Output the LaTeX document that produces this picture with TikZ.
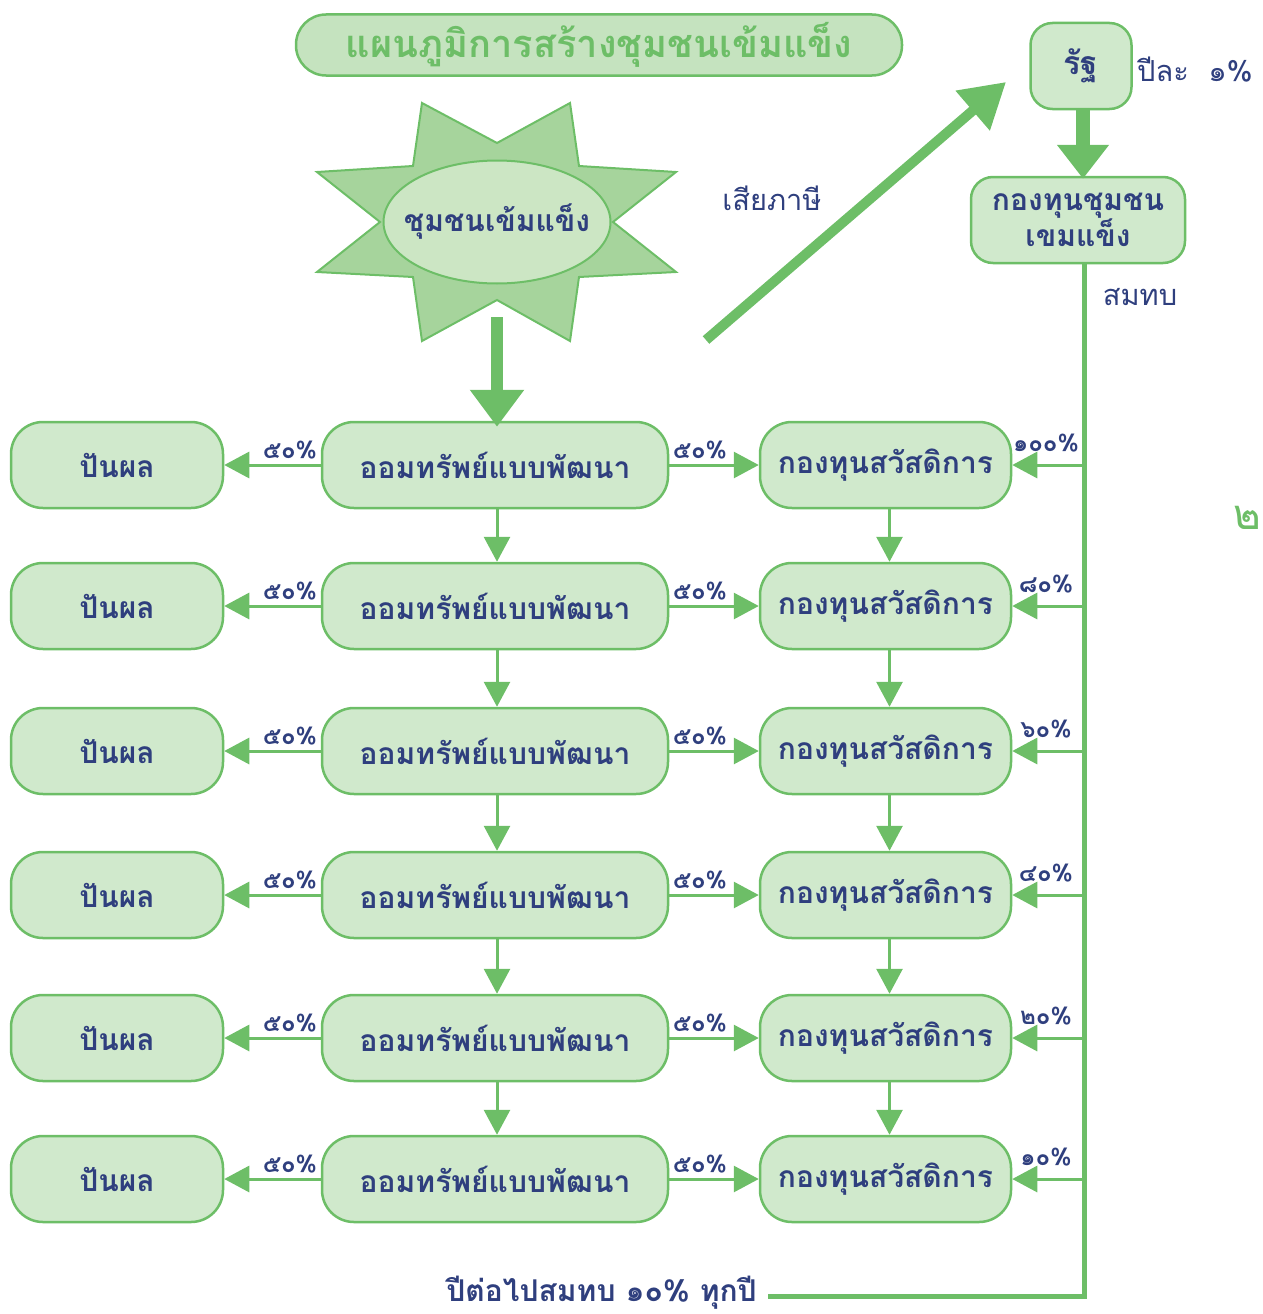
\documentclass[tikz,border=0pt]{standalone}
\usepackage{fontspec}
\newfontfamily\thai[Script=Thai]{Loma}
\usetikzlibrary{arrows.meta,shapes.geometric}
\definecolor{gline}{HTML}{6DBE67}
\definecolor{boxfill}{HTML}{D0E9CC}
\definecolor{titlefill}{HTML}{C5E3BF}
\definecolor{starfill}{HTML}{A6D49C}
\definecolor{ellfill}{HTML}{CCE6C4}
\definecolor{tblue}{HTML}{2F3F7E}
\tikzset{
  box/.style={draw=gline, line width=2.5pt, fill=boxfill, rounded corners=32pt,
    minimum height=86pt, inner sep=0pt, text=tblue,
    font=\thai\bfseries\fontsize{30pt}{36pt}\selectfont},
  pct/.style={text=tblue, inner sep=0pt, font=\thai\bfseries\fontsize{24pt}{28pt}\selectfont},
  lab/.style={text=tblue, inner sep=0pt, font=\thai\fontsize{29pt}{32pt}\selectfont},
  thinarrow/.style={draw=gline, line width=3pt, -{Triangle[length=25pt,width=26pt]}},
}
\begin{document}
\begin{tikzpicture}[x=1pt,y=-1pt]
\useasboundingbox (0,0) rectangle (1262,1314);
% title
\node[draw=gline, line width=2.5pt, fill=titlefill, rounded corners=30pt,
  minimum width=606pt, minimum height=61pt, inner sep=0pt, text=gline,
  font=\thai\bfseries\fontsize{38pt}{44pt}\selectfont] (title) at (599,45) {แผนภูมิการสร้างชุมชนเข้มแข็ง};
% star
\draw[draw=gline, line width=2pt, fill=starfill]
  (422,103) -- (497,143) -- (570,103) -- (579,166) -- (676,172) -- (613,222) --
  (676,272) -- (579,277) -- (570,341) -- (497,300) -- (422,341) -- (413,277) --
  (317,272) -- (380,222) -- (317,172) -- (413,166) -- cycle;
\node[ellipse, draw=gline, line width=2pt, fill=ellfill, minimum width=227pt,
  minimum height=123pt, inner sep=0pt] (st) at (497,222) {};
\node[text=tblue, inner sep=0pt, font=\thai\bfseries\fontsize{30pt}{36pt}\selectfont] (stt) at (497,222) {ชุมชนเข้มแข็ง};
% state and fund
\node[box, rounded corners=22pt, minimum width=101pt, font=\thai\bfseries\fontsize{32pt}{36pt}\selectfont] (ru) at (1081,66) {รัฐ};
\node[box, rounded corners=22pt, minimum width=214pt, align=center,
  font=\thai\bfseries\fontsize{30pt}{34pt}\selectfont] (kc) at (1078,220) {กองทุนชุมชน\\เขมแข็ง};
\node[lab, anchor=west] (yl) at (1137,70) {ปีละ ~๑\%};
\node[lab] (tax) at (772,198) {เสียภาษี};
\node[lab] (smt) at (1140,297) {สมทบ};
\node[text=gline, inner sep=0pt, font=\thai\fontsize{42pt}{46pt}\selectfont] (pg) at (1247,518) {๒};
% thick arrows
\coordinate (sa) at (497,317);
\coordinate (ta) at (706,340);
\coordinate (tb) at (1006,82);
\coordinate (rb) at (1083,109);
\draw[draw=gline, line width=10pt, -{Triangle[length=44pt,width=50pt]}] (ta) -- (tb);
\draw[draw=gline, line width=14pt, -{Triangle[length=34pt,width=50pt]}] (rb) -- ([yshift=-3pt]rb |- kc.north);
% rows
\foreach \i/\y/\r in {1/465/๑๐๐, 2/606/๘๐, 3/751/๖๐, 4/895/๔๐, 5/1038/๒๐, 6/1179/๑๐}{
  \node[box, minimum width=212pt] (p\i) at (117,\y) {ปันผล};
  \node[box, minimum width=346pt] (o\i) at (495,\y) {ออมทรัพย์แบบพัฒนา};
  \node[box, minimum width=251pt] (k\i) at (885.5,\y) {กองทุนสวัสดิการ};
  \coordinate (r\i) at (1084,\y);
  \draw[thinarrow] (o\i.west) -- (p\i.east);
  \draw[thinarrow] (o\i.east) -- (k\i.west);
  \draw[thinarrow] (r\i) -- (k\i.east);
  \node[pct] (lp\i) at (290,\y-15) {๕๐\%};
  \node[pct] (rp\i) at (700,\y-15) {๕๐\%};
  \node[pct] (kp\i) at (1046,\y-22) {\r\%};
}
\draw[draw=gline, line width=12pt, -{Triangle[length=37pt,width=52pt]}] (sa) -- ([yshift=-6pt]sa |- o1.north);
\foreach \i/\j in {1/2,2/3,3/4,4/5,5/6}{
  \draw[thinarrow] ([xshift=2pt]o\i.south) -- ([xshift=2pt]o\j.north);
  \draw[thinarrow] ([xshift=4pt]k\i.south) -- ([xshift=4pt]k\j.north);
}
% main feed line
\coordinate (jx) at (1084,0);
\coordinate (be) at (768,1296);
\draw[draw=gline, line width=5pt] (kc.south -| jx) |- (be);
\node[text=tblue, inner sep=0pt, anchor=east,
  font=\thai\bfseries\fontsize{30pt}{36pt}\selectfont] (bt) at (757,1293) {ปีต่อไปสมทบ ๑๐\% ทุกปี};
\end{tikzpicture}
\end{document}
